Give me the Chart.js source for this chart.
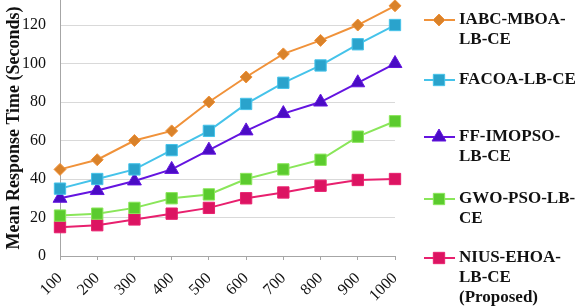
<!DOCTYPE html>
<html>
<head>
<meta charset="utf-8">
<script src="https://cdn.jsdelivr.net/npm/chart.js@4.4.1/dist/chart.umd.min.js"></script>
<style>
  html, body { margin: 0; padding: 0; background: #fff; }
  #wrap { width: 575px; height: 306px; position: relative; }
</style>
</head>
<body>
<div id="wrap"><canvas id="chart" width="575" height="306"></canvas></div>
<script>
// tasks on x axis
const tasks = ['100', '200', '300', '400', '500', '600', '700', '800', '900', '1000'];

// mean response time (seconds)
const iabcMboa = [45, 50, 60, 65, 80, 93, 105, 112, 120, 130];
const facoa    = [35, 40, 45, 55, 65, 79, 90, 99, 110, 120];
const ffImopso = [30, 34, 39, 45, 55, 65, 74, 80, 90, 100];
const gwoPso   = [21, 22, 25, 30, 32, 40, 45, 50, 62, 70];
const niusEhoa = [15, 16, 19, 22, 25, 30, 33, 36.5, 39.5, 40];

const legendNames = [
  ['IABC-MBOA-', 'LB-CE'],
  ['FACOA-LB-CE'],
  ['FF-IMOPSO-', 'LB-CE'],
  ['GWO-PSO-LB-', 'CE'],
  ['NIUS-EHOA-', 'LB-CE', '(Proposed)']
];

const serif = '"Liberation Serif", "Times New Roman", serif';

function series(label, data, line, fill, style, radius) {
  return {
    label: label,
    data: data,
    borderColor: line,
    backgroundColor: fill,
    pointBackgroundColor: fill,
    pointBorderColor: line,
    pointBorderWidth: 1,
    pointStyle: style,
    pointRadius: radius,
    borderWidth: 2,
    tension: 0,
    clip: false
  };
}

const datasets = [
  series('IABC-MBOA-LB-CE', iabcMboa, '#F0923A', '#D9822A', 'rectRot', 6),
  series('FACOA-LB-CE', facoa, '#45C3EA', '#2AA3CC', 'rect', 8),
  series('FF-IMOPSO-LB-CE', ffImopso, '#6414E0', '#4A0CC4', 'triangle', 8),
  series('GWO-PSO-LB-CE', gwoPso, '#8AE65A', '#5BCB2E', 'rect', 8),
  series('NIUS-EHOA-LB-CE (Proposed)', niusEhoa, '#E8206E', '#DC1462', 'rect', 8)
];

// legend drawn on the right side, with wrapped names
const sideLegend = {
  id: 'sideLegend',
  afterDraw(chart) {
    const ctx = chart.ctx;
    const ys = [20, 80, 137, 199, 258];
    ctx.save();
    chart.data.datasets.forEach((ds, i) => {
      const y = ys[i];
      ctx.strokeStyle = ds.borderColor;
      ctx.lineWidth = 2;
      ctx.beginPath();
      ctx.moveTo(424, y);
      ctx.lineTo(455, y);
      ctx.stroke();
      ctx.fillStyle = ds.pointBackgroundColor;
      ctx.strokeStyle = ds.pointBorderColor;
      ctx.lineWidth = 1;
      Chart.helpers.drawPoint(ctx, { pointStyle: ds.pointStyle, radius: ds.pointRadius, rotation: 0, borderWidth: 1 }, 439, y);
      ctx.fillStyle = '#111';
      ctx.font = 'bold 17px ' + serif;
      ctx.textBaseline = 'middle';
      ctx.textAlign = 'left';
      legendNames[i].forEach((t, j) => ctx.fillText(t, 459, y + j * 20));
    });
    ctx.restore();
  }
};

new Chart(document.getElementById('chart'), {
  type: 'line',
  data: { labels: tasks, datasets: datasets },
  plugins: [sideLegend],
  options: {
    responsive: false,
    animation: false,
    layout: { autoPadding: false, padding: { top: 0, right: 180, bottom: 0, left: 0 } },
    plugins: { legend: { display: false }, tooltip: { enabled: false } },
    scales: {
      x: {
        offset: false,
        grid: { display: true, drawOnChartArea: false, drawTicks: true, tickLength: 4, color: '#A6A6A6' },
        border: { color: '#A6A6A6', width: 1 },
        ticks: {
          minRotation: 45, maxRotation: 45, autoSkip: false, padding: 9,
          color: '#111', font: { family: serif, size: 16 }
        },
        afterFit(scale) { scale.height = 50; scale.paddingLeft = 0; scale.paddingRight = 0; }
      },
      y: {
        min: 0, max: 133,
        grid: { color: '#D9D9D9', drawTicks: false },
        border: { color: '#A6A6A6', width: 1 },
        ticks: { stepSize: 20, padding: 14, color: '#111', font: { family: serif, size: 16 } },
        afterBuildTicks(scale) { scale.ticks = scale.ticks.filter(t => t.value % 20 === 0); },
        title: {
          display: true, text: 'Mean Response Time (Seconds)', color: '#111',
          font: { family: serif, size: 18, weight: 'bold' }, padding: { top: 4, bottom: 0 }
        },
        afterFit(scale) { scale.width = 60; scale.paddingTop = 0; scale.paddingBottom = 0; }
      }
    }
  }
});
</script>
</body>
</html>
